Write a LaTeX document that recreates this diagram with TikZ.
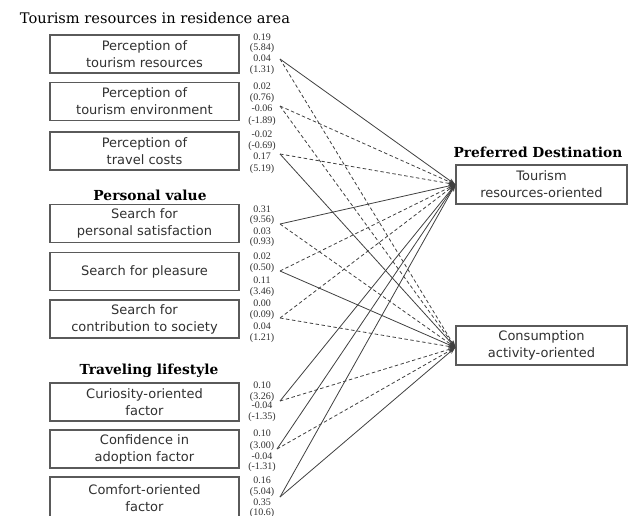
\documentclass[tikz,border=0pt]{standalone}
\usepackage{fontspec}
\setmainfont{DejaVu Sans}
\newfontfamily\titlefont{DejaVu Serif}
\newfontfamily\numfont{Liberation Serif}
\usetikzlibrary{arrows.meta}
\definecolor{boxline}{HTML}{5A5A5A}
\definecolor{txt}{HTML}{303030}
\definecolor{conn}{HTML}{404040}
\tikzset{
  factor/.style={draw=boxline, line width=1.3pt, minimum width=189pt, minimum height=38pt,
    inner sep=0pt, align=center, text=txt, font=\fontsize{13}{17}\selectfont},
  target/.style={draw=boxline, line width=1.3pt, minimum width=171pt, minimum height=39pt,
    inner sep=0pt, align=center, text=txt, font=\fontsize{13}{17}\selectfont},
  heading/.style={font=\titlefont\fontsize{14.6}{16}\selectfont, inner sep=0pt},
  headingb/.style={font=\titlefont\bfseries\fontsize{13.8}{16}\selectfont, inner sep=0pt},
  coef/.style={font=\numfont\fontsize{10}{10}\selectfont, inner sep=0pt, text=txt},
  path/.style={draw=conn, line width=0.8pt, -{Stealth[length=7pt,width=4.5pt]}},
  pathd/.style={path, dash pattern=on 3.5pt off 2.5pt}
}
\begin{document}
\begin{tikzpicture}[x=1pt,y=-1pt]
\useasboundingbox (0,0) rectangle (629,515);
\clip (0,0) rectangle (629,515);
% headings
\node[heading] (h1) at (155,18) {Tourism resources in residence area};
\node[headingb] (h2) at (150,195) {Personal value};
\node[headingb] (h3) at (149,371) {Traveling lifestyle};
\node[headingb] (h4) at (538,152) {Preferred Destination};
% left boxes
\node[factor] (b1) at (144.5,54) {Perception of\\tourism resources};
\node[factor] (b2) at (144.5,101.5) {Perception of\\tourism environment};
\node[factor] (b3) at (144.5,151) {Perception of\\travel costs};
\node[factor] (b4) at (144.5,223.5) {Search for\\personal satisfaction};
\node[factor] (b5) at (144.5,271.5) {Search for pleasure};
\node[factor] (b6) at (144.5,319) {Search for\\contribution to society};
\node[factor] (b7) at (144.5,402) {Curiosity-oriented\\factor};
\node[factor] (b8) at (144.5,449) {Confidence in\\adoption factor};
\node[factor, minimum height=42pt] (b9) at (144.5,498) {Comfort-oriented\\factor};
% right boxes
\node[target] (T) at (541.5,184.5) {Tourism\\resources-oriented};
\node[target] (C) at (541.5,345.5) {Consumption\\activity-oriented};
% start points
\coordinate (s1) at (280,59);
\coordinate (s2) at (280,106);
\coordinate (s3) at (280,154);
\coordinate (s4) at (280,224);
\coordinate (s5) at (280,271);
\coordinate (s6) at (280,318);
\coordinate (s7) at (280,401);
\coordinate (s8) at (277,449);
\coordinate (s9) at (280,497);
\coordinate (tT) at ([yshift=0pt]T.west);
\coordinate (tC) at ([yshift=-2pt]C.west);
% coefficients
\node[coef] (c1a) at (262,37) {0.19};
\node[coef] (c1b) at (262,48) {(5.84)};
\node[coef] (c1c) at (262,58) {0.04};
\node[coef] (c1d) at (262,70) {(1.31)};
\node[coef] (c2a) at (262,86) {0.02};
\node[coef] (c2b) at (262,98) {(0.76)};
\node[coef] (c2c) at (262,108) {-0.06};
\node[coef] (c2d) at (262,121) {(-1.89)};
\node[coef] (c3a) at (262,134) {-0.02};
\node[coef] (c3b) at (262,146) {(-0.69)};
\node[coef] (c3c) at (262,156) {0.17};
\node[coef] (c3d) at (262,169) {(5.19)};
\node[coef] (c4a) at (262,209) {0.31};
\node[coef] (c4b) at (262,220) {(9.56)};
\node[coef] (c4c) at (262,231) {0.03};
\node[coef] (c4d) at (262,242) {(0.93)};
\node[coef] (c5a) at (262,256) {0.02};
\node[coef] (c5b) at (262,268) {(0.50)};
\node[coef] (c5c) at (262,280) {0.11};
\node[coef] (c5d) at (262,292) {(3.46)};
\node[coef] (c6a) at (262,303) {0.00};
\node[coef] (c6b) at (262,315) {(0.09)};
\node[coef] (c6c) at (262,326) {0.04};
\node[coef] (c6d) at (262,338) {(1.21)};
\node[coef] (c7a) at (262,385) {0.10};
\node[coef] (c7b) at (262,397) {(3.26)};
\node[coef] (c7c) at (262,405) {-0.04};
\node[coef] (c7d) at (262,417) {(-1.35)};
\node[coef] (c8a) at (262,433) {0.10};
\node[coef] (c8b) at (262,446) {(3.00)};
\node[coef] (c8c) at (262,456) {-0.04};
\node[coef] (c8d) at (262,467) {(-1.31)};
\node[coef] (c9a) at (262,480) {0.16};
\node[coef] (c9b) at (262,492) {(5.04)};
\node[coef] (c9c) at (262,502) {0.35};
\node[coef] (c9d) at (262,513) {(10.6)};
% connectors
\draw[path]  (s1) -- (tT);
\draw[pathd] (s1) -- (tC);
\draw[pathd] (s2) -- (tT);
\draw[pathd] (s2) -- (tC);
\draw[pathd] (s3) -- (tT);
\draw[path]  (s3) -- (tC);
\draw[path]  (s4) -- (tT);
\draw[pathd] (s4) -- (tC);
\draw[pathd] (s5) -- (tT);
\draw[path]  (s5) -- (tC);
\draw[pathd] (s6) -- (tT);
\draw[pathd] (s6) -- (tC);
\draw[path]  (s7) -- (tT);
\draw[pathd] (s7) -- (tC);
\draw[path]  (s8) -- (tT);
\draw[pathd] (s8) -- (tC);
\draw[path]  (s9) -- (tT);
\draw[path]  (s9) -- (tC);
\end{tikzpicture}
\end{document}
